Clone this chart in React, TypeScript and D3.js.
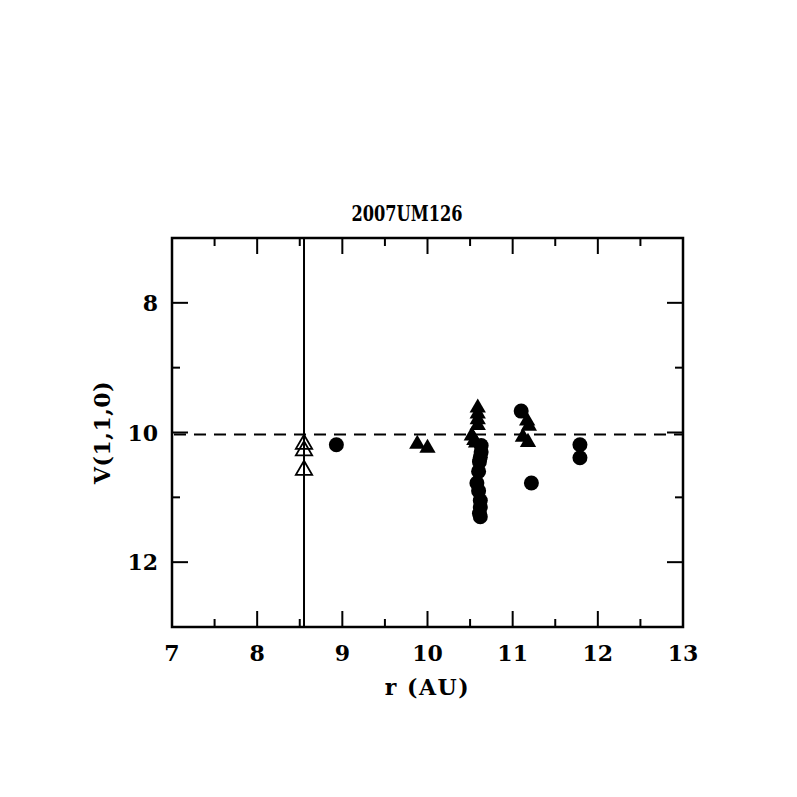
import React from "react";
import * as d3 from "d3";

const title = "2007UM126";
const xLabel = "r (AU)";
const yLabel = "V(1,1,0)";
const xDomain = [7, 13];
const yDomain = [7, 13];
const xMajor = [7, 8, 9, 10, 11, 12, 13];
const xMinor = [7.5, 8.5, 9.5, 10.5, 11.5, 12.5];
const yMajor = [8, 10, 12];
const yMinor = [7, 9, 11, 13];
const verticalLineX = 8.55;
const dashedLineY = 10.03;

// open triangles
const openTriX = [8.55, 8.55, 8.55];
const openTriY = [10.18, 10.28, 10.58];

// filled triangles
const filledTriX = [9.88, 10.0, 10.52, 10.55, 10.57, 10.59, 10.59, 10.59, 10.59, 11.12, 11.18, 11.17, 11.19];
const filledTriY = [10.18, 10.24, 10.05, 10.12, 10.16, 9.62, 9.71, 9.8, 9.89, 10.07, 10.15, 9.82, 9.9];

// filled circles
const circX = [8.93, 10.63, 10.63, 10.62, 10.61, 10.6, 10.58, 10.6, 10.62, 10.62, 10.61, 10.62, 11.1, 11.22, 11.79, 11.79];
const circY = [10.19, 10.2, 10.3, 10.38, 10.45, 10.6, 10.78, 10.9, 11.05, 11.15, 11.25, 11.3, 9.67, 10.78, 10.19, 10.39];

const left = 172;
const right = 683;
const top = 238;
const bottom = 627;

export default function App() {
  const x = d3.scaleLinear().domain(xDomain).range([left, right]);
  const y = d3.scaleLinear().domain(yDomain).range([top, bottom]);
  const tri = d3.symbol().type(d3.symbolTriangle).size(115)() as string;
  const font = "'DejaVu Serif', serif";
  return (
    <svg width={797} height={797} style={{ position: "absolute", left: 0, top: 0, background: "#fff" }}>
      <rect x={0} y={0} width={797} height={797} fill="#fff" />
      <text transform={`translate(407,221) scale(1,1.4)`} textAnchor="middle" fontFamily={font} fontWeight="bold" fontSize={16.2}>{title}</text>
      {/* vertical line */}
      <line x1={x(verticalLineX)} x2={x(verticalLineX)} y1={top} y2={bottom} stroke="#000" strokeWidth={2} />
      {/* dashed line */}
      <line x1={left} x2={right} y1={y(dashedLineY)} y2={y(dashedLineY)} stroke="#000" strokeWidth={2} strokeDasharray="12 8" strokeDashoffset={-2} />
      {/* ticks */}
      {xMajor.map((v) => (
        <g key={"xM" + v}>
          <line x1={x(v)} x2={x(v)} y1={bottom} y2={bottom - 16} stroke="#000" strokeWidth={2} />
          <line x1={x(v)} x2={x(v)} y1={top} y2={top + 16} stroke="#000" strokeWidth={2} />
          <text x={x(v)} y={661} textAnchor="middle" fontFamily={font} fontWeight="bold" fontSize={22}>{v}</text>
        </g>
      ))}
      {xMinor.map((v) => (
        <g key={"xm" + v}>
          <line x1={x(v)} x2={x(v)} y1={bottom} y2={bottom - 8} stroke="#000" strokeWidth={2} />
          <line x1={x(v)} x2={x(v)} y1={top} y2={top + 8} stroke="#000" strokeWidth={2} />
        </g>
      ))}
      {yMajor.map((v) => (
        <g key={"yM" + v}>
          <line x1={left} x2={left + 16} y1={y(v)} y2={y(v)} stroke="#000" strokeWidth={2} />
          <line x1={right} x2={right - 16} y1={y(v)} y2={y(v)} stroke="#000" strokeWidth={2} />
          <text x={158} y={y(v) + 8} textAnchor="end" fontFamily={font} fontWeight="bold" fontSize={22}>{v}</text>
        </g>
      ))}
      {yMinor.map((v) => (
        <g key={"ym" + v}>
          <line x1={left} x2={left + 8} y1={y(v)} y2={y(v)} stroke="#000" strokeWidth={2} />
          <line x1={right} x2={right - 8} y1={y(v)} y2={y(v)} stroke="#000" strokeWidth={2} />
        </g>
      ))}
      {/* frame */}
      <rect x={left} y={top} width={right - left} height={bottom - top} fill="none" stroke="#000" strokeWidth={2.5} />
      {/* points */}
      {openTriX.map((v, i) => (
        <path key={"ot" + i} d={tri} transform={`translate(${x(v)},${y(openTriY[i])})`} fill="none" stroke="#000" strokeWidth={1.8} />
      ))}
      {filledTriX.map((v, i) => (
        <path key={"ft" + i} d={tri} transform={`translate(${x(v)},${y(filledTriY[i])})`} fill="#000" />
      ))}
      {circX.map((v, i) => (
        <circle key={"c" + i} cx={x(v)} cy={y(circY[i])} r={7.5} fill="#000" />
      ))}
      <text x={(left + right) / 2} y={695} textAnchor="middle" fontFamily={font} fontWeight="bold" fontSize={22} letterSpacing={1.5}>{xLabel}</text>
      <text transform={`translate(110,${(top + bottom) / 2}) rotate(-90)`} textAnchor="middle" fontFamily={font} fontWeight="bold" fontSize={22} letterSpacing={0.5}>{yLabel}</text>
    </svg>
  );
}
